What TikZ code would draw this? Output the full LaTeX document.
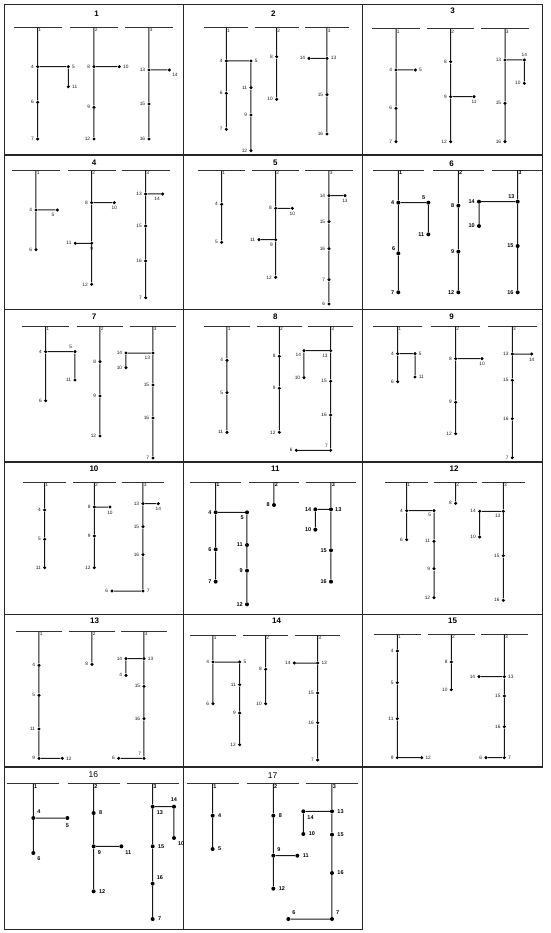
\documentclass[tikz,border=0pt]{standalone}
\usepackage{fontspec}
\setmainfont{Liberation Sans}
\usetikzlibrary{positioning}

\tikzset{
  dot/.style={circle,fill=black,inner sep=0pt,minimum size=3.4pt},
  lbl/.style={font=\fontsize{4.8}{5}\selectfont,text=black!90,inner sep=0.6pt},
  ttl/.style={font=\bfseries\fontsize{8}{9}\selectfont},
  bar/.style={line width=1pt,black!80},
  ln/.style={line width=1pt,black!90},
  frame/.style={line width=1.2pt,black!85},
  heavy/.style={lbl/.append style={font=\bfseries\fontsize{5.5}{6}\selectfont,text=black},
    dot/.append style={minimum size=4pt}}
}

\begin{document}
\begin{tikzpicture}[x=1pt,y=-1pt,label distance=1.2pt]
  \newcommand{\vtx}[4]{\node[dot,label={[lbl]#4:#1}] (p#1) at (#2,#3) {};}
  \newcommand{\bartop}[4]{\draw[bar] (#2-#4,#3) -- (#2+#4,#3);
    \coordinate (r#1) at (#2,#3);
    \node[lbl,anchor=north west] (l#1) at (r#1) {#1};}
  \useasboundingbox (0,0) rectangle (550,933);

  % frame
  \draw[frame] (4.7,4.7) -- (542.7,4.7) -- (542.7,767) -- (362.7,767) -- (362.7,929.5) -- (4.7,929.5) -- cycle;
  \foreach \y in {155,309.5,462,614.5,767} \draw[frame] (4.7,\y) -- (542.7,\y);
  \draw[frame] (183.7,4.7) -- (183.7,929.5);
  \draw[frame] (362.7,4.7) -- (362.7,767);

  % row 1
  \begin{scope}[shift={(0,0)},scale=1/3]
    \node[ttl] (t1) at (290,42) {1};
    \bartop{1}{113}{82}{72} \bartop{2}{282}{82}{72} \bartop{3}{447}{82}{72}
    \vtx{4}{113}{200}{left} \vtx{5}{205}{200}{right} \vtx{11}{205}{260}{right}
    \vtx{6}{113}{307}{left} \vtx{7}{113}{417}{left}
    \vtx{8}{282}{200}{left} \vtx{10}{358}{200}{right} \vtx{9}{282}{322}{left} \vtx{12}{282}{417}{left}
    \vtx{13}{447}{210}{left} \vtx{14}{508}{210}{below right} \vtx{15}{447}{312}{left} \vtx{16}{447}{417}{left}
    \draw[ln] (r1) -- (p4) -- (p6) -- (p7) (p4) -- (p5) -- (p11);
    \draw[ln] (r2) -- (p8) -- (p9) -- (p12) (p8) -- (p10);
    \draw[ln] (r3) -- (p13) -- (p15) -- (p16) (p13) -- (p14);

    \node[ttl] (t2) at (820,42) {2};
    \bartop{1}{679}{84}{66} \bartop{2}{830}{84}{66} \bartop{3}{981}{84}{66}
    \vtx{4}{679}{183}{left} \vtx{5}{753}{183}{right} \vtx{6}{679}{280}{left} \vtx{7}{679}{388}{left}
    \vtx{11}{753}{263}{left} \vtx{9}{753}{345}{left} \vtx{12}{753}{452}{left}
    \vtx{8}{830}{170}{left} \vtx{10}{830}{298}{left}
    \vtx{13}{981}{175}{right} \vtx{14}{927}{175}{left} \vtx{15}{981}{284}{left} \vtx{16}{981}{402}{left}
    \draw[ln] (r1) -- (p4) -- (p6) -- (p7) (p4) -- (p5) -- (p11) -- (p9) -- (p12);
    \draw[ln] (r2) -- (p8) -- (p10);
    \draw[ln] (r3) -- (p13) -- (p15) -- (p16) (p13) -- (p14);
  \end{scope}

  \begin{scope}[shift={(360,0)},scale=1/3]
    \node[ttl] (t3) at (278,33) {3};
    \bartop{1}{108}{87}{71} \bartop{2}{272}{87}{71} \bartop{3}{435}{87}{71}
    \vtx{4}{108}{210}{left} \vtx{5}{166}{210}{right} \vtx{6}{108}{325}{left} \vtx{7}{108}{425}{left}
    \vtx{8}{272}{185}{left} \vtx{9}{272}{290}{left} \vtx{11}{342}{290}{below} \vtx{12}{272}{425}{left}
    \vtx{13}{435}{180}{left} \vtx{14}{493}{180}{above} \vtx{10}{493}{250}{left}
    \vtx{15}{435}{310}{left} \vtx{16}{435}{425}{left}
    \draw[ln] (r1) -- (p4) -- (p6) -- (p7) (p4) -- (p5);
    \draw[ln] (r2) -- (p8) -- (p9) -- (p12) (p9) -- (p11);
    \draw[ln] (r3) -- (p13) -- (p15) -- (p16) (p13) -- (p14) -- (p10);
  \end{scope}

  % row 2
  \begin{scope}[shift={(0,155)},scale=1/3]
    \node[ttl] (t4) at (282,22) {4};
    \bartop{1}{108}{47}{72} \bartop{2}{275}{47}{72} \bartop{3}{437}{47}{72}
    \vtx{4}{108}{165}{left} \vtx{5}{172}{165}{below left} \vtx{6}{108}{284}{left}
    \vtx{8}{275}{143}{left} \vtx{10}{343}{143}{below} \vtx{9}{275}{265}{below}
    \vtx{11}{226}{265}{left} \vtx{12}{275}{388}{left}
    \vtx{13}{437}{117}{left} \vtx{14}{488}{117}{below left} \vtx{15}{437}{213}{left}
    \vtx{16}{437}{318}{left} \vtx{7}{437}{428}{left}
    \draw[ln] (r1) -- (p4) -- (p6) (p4) -- (p5);
    \draw[ln] (r2) -- (p8) -- (p9) -- (p12) (p8) -- (p10) (p9) -- (p11);
    \draw[ln] (r3) -- (p13) -- (p15) -- (p16) -- (p7) (p13) -- (p14);

    \node[ttl] (t5) at (826,22) {5};
    \bartop{1}{665}{47}{71} \bartop{2}{827}{47}{71} \bartop{3}{987}{47}{71}
    \vtx{4}{665}{148}{left} \vtx{5}{665}{262}{left}
    \vtx{8}{827}{160}{left} \vtx{10}{877}{160}{below} \vtx{9}{827}{254}{below left}
    \vtx{11}{777}{254}{left} \vtx{12}{827}{367}{left}
    \vtx{14}{987}{122}{left} \vtx{13}{1035}{122}{below} \vtx{15}{987}{200}{left}
    \vtx{16}{987}{281}{left} \vtx{7}{987}{374}{left} \vtx{6}{987}{447}{left}
    \draw[ln] (r1) -- (p4) -- (p5);
    \draw[ln] (r2) -- (p8) -- (p9) -- (p12) (p8) -- (p10) (p9) -- (p11);
    \draw[ln] (r3) -- (p14) -- (p15) -- (p16) -- (p7) -- (p6) (p14) -- (p13);
  \end{scope}

  \begin{scope}[shift={(360,155)},scale=1/3,heavy]
    \node[ttl] (t6) at (275,25) {6};
    \bartop{1}{115}{46}{76} \bartop{2}{295}{46}{76} \bartop{3}{473}{46}{76}
    \vtx{4}{115}{143}{left} \vtx{5}{205}{143}{above left} \vtx{11}{205}{238}{left}
    \vtx{6}{115}{295}{above left} \vtx{7}{115}{412}{left}
    \vtx{8}{295}{152}{left} \vtx{9}{295}{290}{left} \vtx{12}{295}{412}{left}
    \vtx{13}{473}{140}{above left} \vtx{14}{357}{140}{left} \vtx{10}{357}{213}{left}
    \vtx{15}{473}{273}{left} \vtx{16}{473}{412}{left}
    \draw[ln] (r1) -- (p4) -- (p6) -- (p7) (p4) -- (p5) -- (p11);
    \draw[ln] (r2) -- (p8) -- (p9) -- (p12);
    \draw[ln] (r3) -- (p13) -- (p15) -- (p16) (p13) -- (p14) -- (p10);
  \end{scope}

  % row 3
  \begin{scope}[shift={(0,307)},scale=1/3]
    \node[ttl] (t7) at (282,28) {7};
    \bartop{1}{137}{58}{70} \bartop{2}{300}{58}{70} \bartop{3}{459}{58}{70}
    \vtx{4}{137}{134}{left} \vtx{5}{225}{134}{above left} \vtx{11}{225}{219}{left} \vtx{6}{137}{281}{left}
    \vtx{8}{300}{164}{left} \vtx{9}{300}{267}{left} \vtx{12}{300}{387}{left}
    \vtx{13}{459}{138}{below left} \vtx{14}{378}{138}{left} \vtx{10}{378}{182}{left}
    \vtx{15}{459}{234}{left} \vtx{16}{459}{333}{left} \vtx{7}{459}{453}{left}
    \draw[ln] (r1) -- (p4) -- (p6) (p4) -- (p5) -- (p11);
    \draw[ln] (r2) -- (p8) -- (p9) -- (p12);
    \draw[ln] (r3) -- (p13) -- (p15) -- (p16) -- (p7) (p13) -- (p14) -- (p10);

    \node[ttl] (t8) at (826,28) {8};
    \bartop{1}{681}{58}{68} \bartop{2}{838}{58}{68} \bartop{3}{992}{58}{68}
    \vtx{4}{681}{160}{left} \vtx{5}{681}{257}{left} \vtx{11}{681}{376}{left}
    \vtx{8}{838}{148}{left} \vtx{9}{838}{244}{left} \vtx{12}{838}{376}{left}
    \vtx{13}{992}{131}{below left} \vtx{14}{912}{131}{below left} \vtx{10}{912}{212}{left}
    \vtx{15}{992}{223}{left} \vtx{16}{992}{324}{left} \vtx{7}{992}{430}{above left} \vtx{6}{889}{430}{left}
    \draw[ln] (r1) -- (p4) -- (p5) -- (p11);
    \draw[ln] (r2) -- (p8) -- (p9) -- (p12);
    \draw[ln] (r3) -- (p13) -- (p15) -- (p16) -- (p7) -- (p6) (p13) -- (p14) -- (p10);
  \end{scope}

  \begin{scope}[shift={(360,307)},scale=1/3]
    \node[ttl] (t9) at (275,28) {9};
    \bartop{1}{113}{57}{74} \bartop{2}{287}{57}{74} \bartop{3}{457}{57}{74}
    \vtx{4}{113}{140}{left} \vtx{5}{165}{140}{right} \vtx{11}{165}{210}{right} \vtx{6}{113}{224}{left}
    \vtx{8}{287}{155}{left} \vtx{10}{366}{155}{below} \vtx{9}{287}{286}{left} \vtx{12}{287}{380}{left}
    \vtx{13}{457}{141}{left} \vtx{14}{515}{141}{below} \vtx{15}{457}{220}{left}
    \vtx{16}{457}{335}{left} \vtx{7}{457}{452}{left}
    \draw[ln] (r1) -- (p4) -- (p6) (p4) -- (p5) -- (p11);
    \draw[ln] (r2) -- (p8) -- (p9) -- (p12) (p8) -- (p10);
    \draw[ln] (r3) -- (p13) -- (p15) -- (p16) -- (p7) (p13) -- (p14);
  \end{scope}

  % row 4
  \begin{scope}[shift={(0,459)},scale=1/3]
    \node[ttl] (t10) at (282,30) {10};
    \bartop{1}{134}{70}{64} \bartop{2}{283}{70}{64} \bartop{3}{429}{70}{64}
    \vtx{4}{134}{153}{left} \vtx{5}{134}{241}{left} \vtx{11}{134}{326}{left}
    \vtx{8}{283}{144}{left} \vtx{10}{330}{144}{below} \vtx{9}{283}{231}{left} \vtx{12}{283}{326}{left}
    \vtx{13}{429}{134}{left} \vtx{14}{475}{134}{below} \vtx{15}{429}{203}{left}
    \vtx{16}{429}{287}{left} \vtx{7}{429}{396}{right} \vtx{6}{336}{396}{left}
    \draw[ln] (r1) -- (p4) -- (p5) -- (p11);
    \draw[ln] (r2) -- (p8) -- (p9) -- (p12) (p8) -- (p10);
    \draw[ln] (r3) -- (p13) -- (p15) -- (p16) -- (p7) -- (p6) (p13) -- (p14);

    \begin{scope}[heavy]
      \node[ttl] (t11) at (826,30) {11};
      \bartop{1}{647}{70}{76} \bartop{2}{822}{70}{76} \bartop{3}{993}{70}{76}
      \vtx{4}{647}{160}{left} \vtx{5}{741}{160}{below left} \vtx{6}{647}{271}{left} \vtx{7}{647}{368}{left}
      \vtx{11}{741}{258}{left} \vtx{9}{741}{335}{left} \vtx{12}{741}{436}{left}
      \vtx{8}{822}{138}{left}
      \vtx{13}{993}{151}{right} \vtx{14}{946}{151}{left} \vtx{10}{946}{212}{left}
      \vtx{15}{993}{274}{left} \vtx{16}{993}{368}{left}
      \draw[ln] (r1) -- (p4) -- (p6) -- (p7) (p4) -- (p5) -- (p11) -- (p9) -- (p12);
      \draw[ln] (r2) -- (p8);
      \draw[ln] (r3) -- (p13) -- (p15) -- (p16) (p13) -- (p14) -- (p10);
    \end{scope}
  \end{scope}

  \begin{scope}[shift={(360,459)},scale=1/3]
    \node[ttl] (t12) at (282,28) {12};
    \bartop{1}{140}{69}{64} \bartop{2}{287}{69}{64} \bartop{3}{430}{69}{64}
    \vtx{4}{140}{155}{left} \vtx{5}{222}{155}{below left} \vtx{6}{140}{242}{left}
    \vtx{11}{222}{247}{left} \vtx{9}{222}{329}{left} \vtx{12}{222}{416}{left}
    \vtx{8}{287}{133}{left}
    \vtx{13}{430}{157}{below left} \vtx{14}{359}{157}{left} \vtx{10}{359}{234}{left}
    \vtx{15}{430}{290}{left} \vtx{16}{430}{424}{left}
    \draw[ln] (r1) -- (p4) -- (p6) (p4) -- (p5) -- (p11) -- (p9) -- (p12);
    \draw[ln] (r2) -- (p8);
    \draw[ln] (r3) -- (p13) -- (p15) -- (p16) (p13) -- (p14) -- (p10);
  \end{scope}

  % row 5
  \begin{scope}[shift={(0,611)},scale=1/3]
    \node[ttl] (t13) at (284,30) {13};
    \bartop{1}{117}{62}{69} \bartop{2}{276}{62}{69} \bartop{3}{432}{62}{69}
    \vtx{4}{117}{163}{left} \vtx{5}{117}{253}{left} \vtx{11}{117}{354}{left}
    \vtx{9}{117}{442}{left} \vtx{12}{187}{442}{right}
    \vtx{8}{276}{160}{left}
    \vtx{13}{432}{143}{right} \vtx{14}{378}{143}{left}
    \node[dot,label={[lbl]left:4}] (q4) at (378,193) {};
    \vtx{15}{432}{226}{left} \vtx{16}{432}{323}{left} \vtx{7}{432}{442}{above left} \vtx{6}{356}{442}{left}
    \draw[ln] (r1) -- (p4) -- (p5) -- (p11) -- (p9) -- (p12);
    \draw[ln] (r2) -- (p8);
    \draw[ln] (r3) -- (p13) -- (p15) -- (p16) -- (p7) -- (p6) (p13) -- (p14) -- (q4);

    \node[ttl] (t14) at (830,30) {14};
    \bartop{1}{639}{72}{68} \bartop{2}{797}{72}{68} \bartop{3}{953}{72}{68}
    \vtx{4}{639}{153}{left} \vtx{5}{719}{153}{right} \vtx{6}{639}{278}{left}
    \vtx{11}{719}{221}{left} \vtx{9}{719}{306}{left} \vtx{12}{719}{401}{left}
    \vtx{8}{797}{175}{left} \vtx{10}{797}{278}{left}
    \vtx{13}{953}{156}{right} \vtx{14}{883}{156}{left} \vtx{15}{953}{246}{left}
    \vtx{16}{953}{335}{left} \vtx{7}{953}{447}{left}
    \draw[ln] (r1) -- (p4) -- (p6) (p4) -- (p5) -- (p11) -- (p9) -- (p12);
    \draw[ln] (r2) -- (p8) -- (p10);
    \draw[ln] (r3) -- (p13) -- (p15) -- (p16) -- (p7) (p13) -- (p14);
  \end{scope}

  \begin{scope}[shift={(360,611)},scale=1/3]
    \node[ttl] (t15) at (278,30) {15};
    \bartop{1}{112}{71}{70} \bartop{2}{274}{71}{70} \bartop{3}{433}{71}{70}
    \vtx{4}{112}{120}{left} \vtx{5}{112}{215}{left} \vtx{11}{112}{323}{left}
    \vtx{9}{112}{440}{left} \vtx{12}{185}{440}{right}
    \vtx{8}{274}{153}{left} \vtx{10}{274}{236}{left}
    \vtx{13}{433}{197}{right} \vtx{14}{357}{197}{left} \vtx{15}{433}{255}{left}
    \vtx{16}{433}{347}{left} \vtx{7}{433}{440}{right} \vtx{6}{378}{440}{left}
    \draw[ln] (r1) -- (p4) -- (p5) -- (p11) -- (p9) -- (p12);
    \draw[ln] (r2) -- (p8) -- (p10);
    \draw[ln] (r3) -- (p13) -- (p15) -- (p16) -- (p7) -- (p6) (p13) -- (p14);
  \end{scope}

  % row 6
  \begin{scope}[shift={(0,763)},scale=1/3,heavy,label distance=2.5pt,
      ttl/.append style={font=\fontsize{8.5}{9}\selectfont}]
    \node[ttl] (t16) at (280,35) {16};
    \bartop{1}{100}{62}{78} \bartop{2}{281}{62}{78} \bartop{3}{458}{62}{78}
    \vtx{4}{100}{165}{above right} \vtx{5}{202}{165}{below} \vtx{6}{100}{270}{below right}
    \vtx{8}{281}{150}{right} \vtx{9}{281}{250}{below right} \vtx{11}{364}{250}{below right}
    \vtx{12}{281}{385}{right}
    \vtx{13}{458}{131}{below right} \vtx{14}{522}{131}{above} \vtx{10}{522}{225}{below right}
    \vtx{15}{458}{250}{right} \vtx{16}{458}{362}{above right} \vtx{7}{458}{468}{right}
    \draw[ln] (r1) -- (p4) -- (p6) (p4) -- (p5);
    \draw[ln] (r2) -- (p8) -- (p9) -- (p12) (p9) -- (p11);
    \draw[ln] (r3) -- (p13) -- (p15) -- (p16) -- (p7) (p13) -- (p14) -- (p10);

    \node[ttl] (t17) at (818,38) {17};
    \bartop{1}{638}{62}{78} \bartop{2}{820}{62}{78} \bartop{3}{996}{62}{78}
    \vtx{4}{638}{158}{right} \vtx{5}{638}{258}{right}
    \vtx{8}{820}{158}{right} \vtx{9}{820}{278}{above right} \vtx{11}{892}{278}{right}
    \vtx{12}{820}{377}{right}
    \vtx{13}{996}{145}{right} \vtx{14}{910}{145}{below right} \vtx{10}{910}{213}{right}
    \vtx{15}{996}{215}{right} \vtx{16}{996}{330}{right} \vtx{7}{996}{468}{above right}
    \vtx{6}{865}{468}{above right}
    \draw[ln] (r1) -- (p4) -- (p5);
    \draw[ln] (r2) -- (p8) -- (p9) -- (p12) (p9) -- (p11);
    \draw[ln] (r3) -- (p13) -- (p15) -- (p16) -- (p7) -- (p6) (p13) -- (p14) -- (p10);
  \end{scope}
\end{tikzpicture}
\end{document}
